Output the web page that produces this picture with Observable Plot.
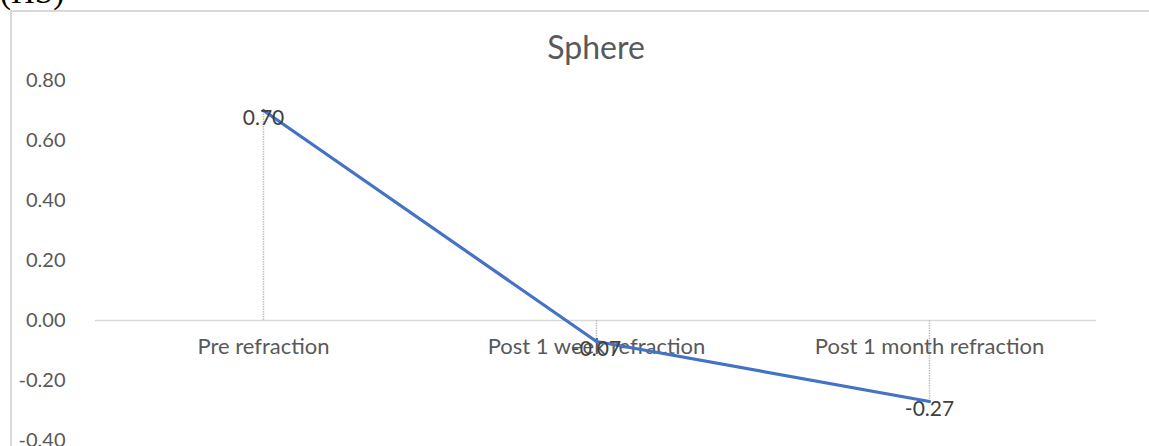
<!DOCTYPE html>
<html>
<head>
<meta charset="utf-8">
<script src="https://cdn.jsdelivr.net/npm/d3@7"></script>
<script src="https://cdn.jsdelivr.net/npm/@observablehq/plot@0.6"></script>
<style>
  html, body { margin: 0; padding: 0; background: #fff; overflow: hidden; }
  #wrap { position: relative; width: 1149px; height: 446px; }
  #hs { position: absolute; left: 0px; top: -26px; font-family: "Liberation Serif", serif; font-size: 33px; color: #000; line-height: 36px; }
  #border { position: absolute; left: 10px; top: 10px; width: 1200px; height: 500px; border: 2px solid #d9d9d9; box-sizing: border-box; }
  #title { position: absolute; left: 0; width: 1192px; top: 27px; text-align: center; font-family: Lato, "Noto Sans", sans-serif; font-size: 32px; color: #595959; }
  #chart { position: absolute; left: 0; top: 0; }
</style>
</head>
<body>
<div id="wrap">
  <div id="border"></div>
  <div id="hs">(HS)</div>
  <div id="title">Sphere</div>
  <div id="chart"></div>
</div>
<script>
const categories = ["Pre refraction", "Post 1 week refraction", "Post 1 month refraction"];
const values = [0.70, -0.07, -0.27];
const labels = ["0.70", "-0.07", "-0.27"];
const yTicks = [0.8, 0.6, 0.4, 0.2, 0.0, -0.2, -0.4];

const data = categories.map((c, i) => ({cat: c, v: values[i], label: labels[i]}));
const font = "Lato, 'Noto Sans', sans-serif";

const chart = Plot.plot({
  width: 1149,
  height: 446,
  marginLeft: 95,
  marginRight: 53,
  marginTop: 80,
  marginBottom: 6,
  style: {fontFamily: font, fontSize: "20px", color: "#595959", background: "transparent"},
  x: {type: "point", domain: categories, padding: 0.5, axis: null},
  y: {domain: [-0.4, 0.8], ticks: yTicks, tickFormat: d => d.toFixed(2), tickSize: 0, tickPadding: 30, label: null},
  marks: [
    Plot.ruleY([0], {stroke: "#d9d9d9", strokeWidth: 1.5}),
    Plot.ruleX(data, {x: "cat", y1: 0, y2: "v", stroke: "#bfbfbf", strokeWidth: 1.5, strokeDasharray: "1.5,1"}),
    Plot.text(data, {x: "cat", y: 0, text: "cat", dy: 26, fill: "#595959", fontSize: 22}),
    Plot.line(data, {x: "cat", y: "v", stroke: "#4472C4", strokeWidth: 3.2}),
    Plot.text(data, {x: "cat", y: "v", text: "label", dy: 8, fill: "#404040", fontSize: 21})
  ]
});
document.getElementById("chart").appendChild(chart);
</script>
</body>
</html>
